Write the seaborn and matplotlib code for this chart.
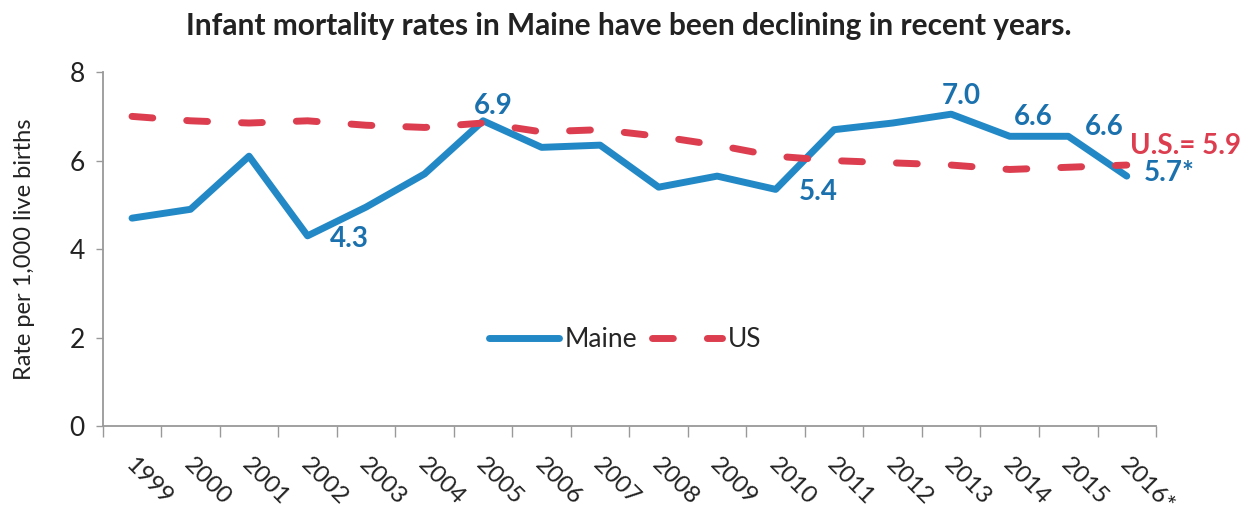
import numpy as np
import pandas as pd
import matplotlib
matplotlib.use("Agg")
import matplotlib.pyplot as plt
import matplotlib.transforms as mtransforms
import seaborn as sns

years = ["1999", "2000", "2001", "2002", "2003", "2004", "2005", "2006", "2007",
         "2008", "2009", "2010", "2011", "2012", "2013", "2014", "2015", "2016*"]
maine = [4.7, 4.9, 6.1, 4.3, 4.95, 5.7, 6.9, 6.3, 6.35, 5.4, 5.65, 5.35, 6.7, 6.85,
         7.05, 6.55, 6.55, 5.65]
us = [7.0, 6.9, 6.85, 6.9, 6.8, 6.75, 6.85, 6.65, 6.7, 6.55, 6.35, 6.1, 6.0, 5.95,
      5.9, 5.8, 5.85, 5.9]

# labelled Maine points: (year index, text)
maine_labels = [(3, "4.3"), (6, "6.9"), (11, "5.4"), (14, "7.0"), (15, "6.6"),
                (16, "6.6"), (17, "5.7*")]

blue = "#2389C6"
blue_txt = "#1B71AD"
red = "#DC3E4F"

sns.set_theme(style="white")
plt.rcParams["font.family"] = ["Lato", "DejaVu Sans"]

df = pd.DataFrame({"year": years * 2,
                   "rate": maine + us,
                   "series": ["Maine"] * len(years) + ["US"] * len(years)})

fig = plt.figure(figsize=(12.53, 5.19), dpi=100)
ax = fig.add_axes([0.082, 0.179, 0.8406, 0.682])

sns.lineplot(data=df[df.series == "Maine"], x="year", y="rate", ax=ax,
             color=blue, linewidth=5, label="Maine", sort=False)
sns.lineplot(data=df[df.series == "US"], x="year", y="rate", ax=ax,
             color=red, linewidth=5, label="US", sort=False)
ax.lines[1].set_dashes([3.0, 4.9])
ax.lines[1].set_dash_capstyle("round")

n = len(years)
ax.set_xlim(-0.5, n - 0.5)
ax.set_ylim(0, 8)
ax.set_yticks([0, 2, 4, 6, 8])
ax.tick_params(axis="y", labelsize=19, length=5, width=1, color="#999999",
               left=True, pad=8, labelcolor="#222222")

# ticks on category boundaries, labels at centres
ax.set_xticks(np.arange(-0.5, n, 1.0))
ax.set_xticklabels([])
ax.set_xticks(np.arange(n), minor=True)
ax.set_xticklabels(years, minor=True, rotation=-45, ha="left", va="top",
                   rotation_mode="anchor", fontsize=17.5, color="#222222")
ax.tick_params(axis="x", which="major", length=8, width=1, color="#999999",
               bottom=True, direction="out")
ax.tick_params(axis="x", which="minor", length=0, pad=20)
shift = mtransforms.ScaledTranslation(4 / 100, 0, fig.dpi_scale_trans)
for lab in ax.get_xticklabels(minor=True):
    lab.set_transform(lab.get_transform() + shift)

ax.set_xlabel("")
ax.set_ylabel("Rate per 1,000 live births", fontsize=17, color="#222222")
ax.yaxis.set_label_coords(-0.064, 0.5)

for side in ["top", "right"]:
    ax.spines[side].set_visible(False)
for side in ["left", "bottom"]:
    ax.spines[side].set_color("#999999")
    ax.spines[side].set_linewidth(1.3)

# value labels
offsets = {3: (0.72, -0.08), 6: (0.17, 0.33), 11: (0.72, -0.05), 14: (0.17, 0.42),
           15: (0.4, 0.43), 16: (0.62, 0.22), 17: (0.72, 0.08)}
for i, txt in maine_labels:
    dx, dy = offsets[i]
    ax.text(i + dx, maine[i] + dy, txt, color=blue_txt, fontsize=20,
            fontweight="bold", ha="center", va="center", clip_on=False)
ax.text(17.06, 6.32, "U.S.= " + f"{us[-1]:.1f}", color=red, fontsize=20,
        fontweight="bold", ha="left", va="center", clip_on=False)

leg = ax.legend(loc="center", bbox_to_anchor=(0.496, 0.245), ncol=2, frameon=False,
                fontsize=19, handlelength=2.65, columnspacing=0.57, handletextpad=0.23)

fig.text(0.502, 0.95, "Infant mortality rates in Maine have been declining in recent years.",
         ha="center", va="center", fontsize=21.5, fontweight="bold", color="#222222")

fig.savefig("out.png", dpi=100)
